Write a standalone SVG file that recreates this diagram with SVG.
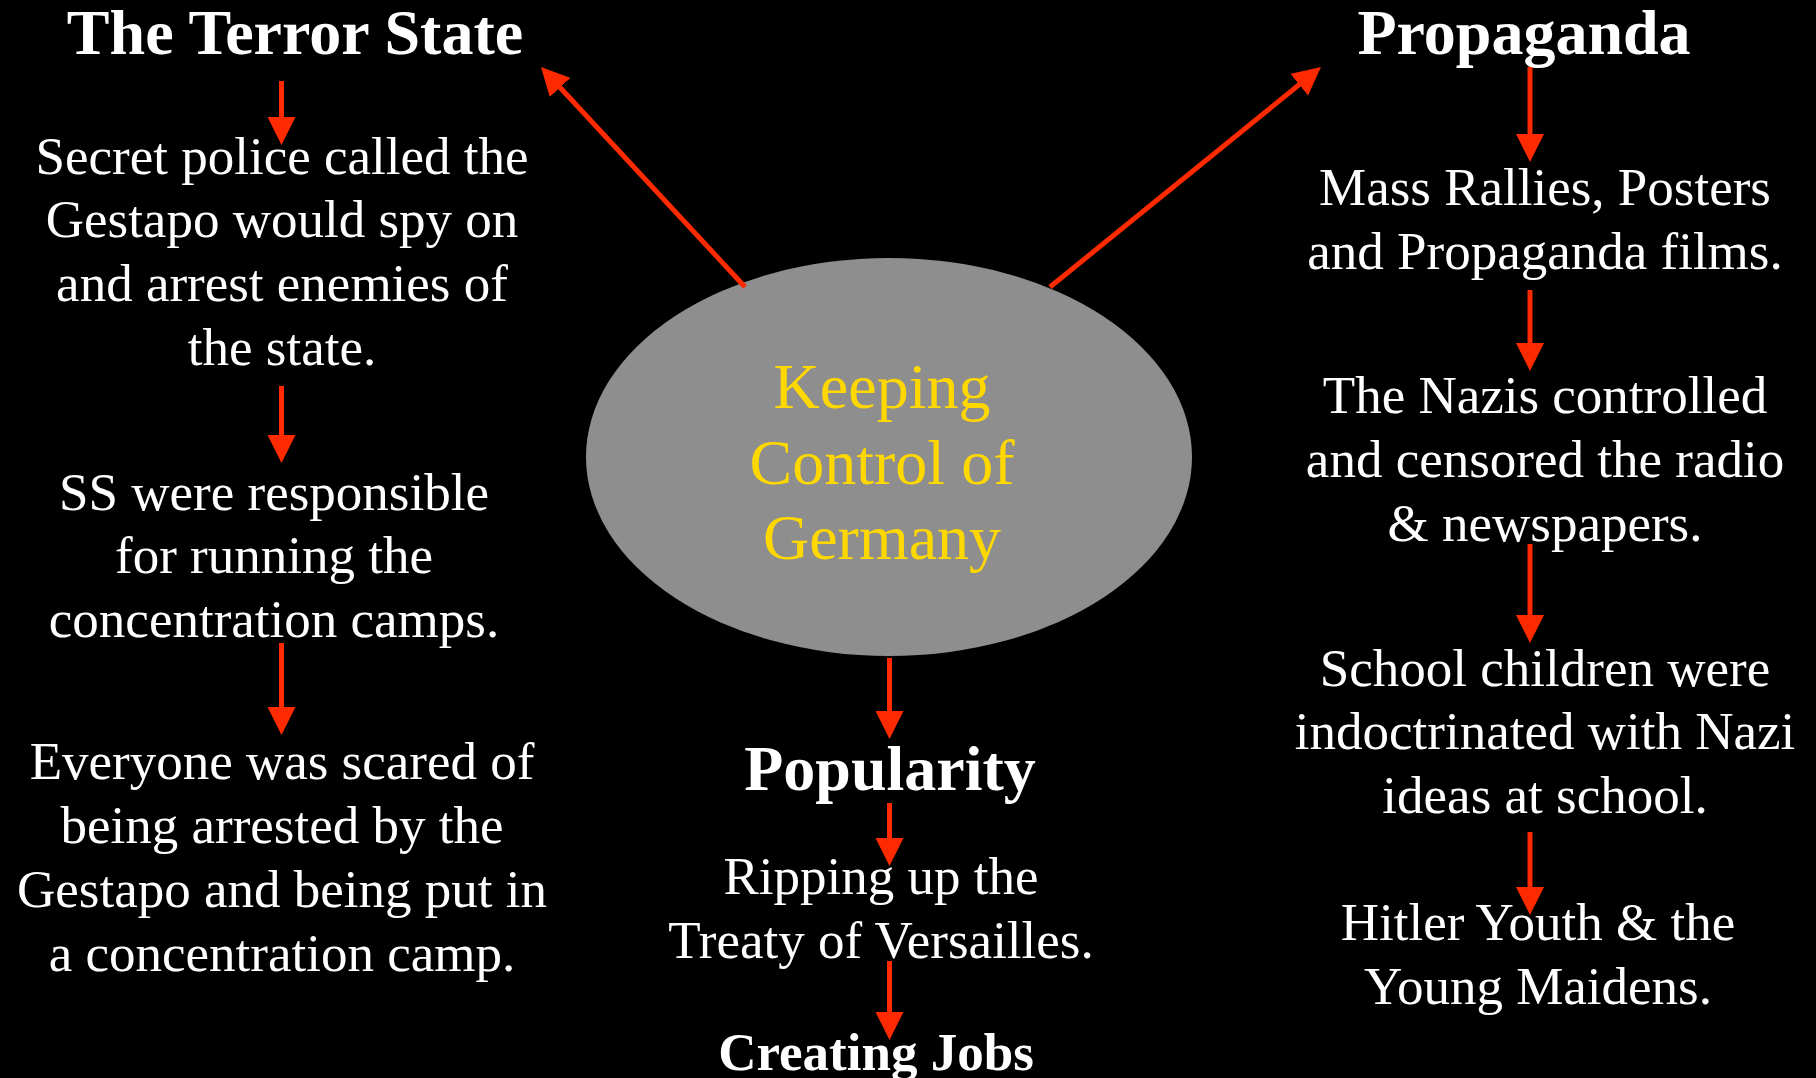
<svg xmlns="http://www.w3.org/2000/svg" width="1816" height="1078" viewBox="0 0 1816 1078">
<style>
.t{font-family:"Liberation Serif","Times New Roman",serif;fill:#fff;text-anchor:middle}
.b{font-size:53px}
.h{font-size:64px;font-weight:bold}
.k{font-family:"Liberation Serif","Times New Roman",serif;fill:#ffd800;text-anchor:middle;font-size:64px}
.c{stroke:#ff2a00;stroke-width:5;fill:none;marker-end:url(#ah)}
</style>
<defs>
<marker id="ah" markerUnits="userSpaceOnUse" markerWidth="30" markerHeight="28" refX="18" refY="14" orient="auto">
<path d="M0,0 L28,14 L0,28 Z" fill="#ff2a00"/>
</marker>
</defs>
<rect width="1816" height="1078" fill="#000"/>
<g id="center">
<ellipse cx="889" cy="457" rx="303" ry="199" fill="#8e8e8e"/>
<text class="k" x="882" y="408">Keeping</text>
<text class="k" x="882" y="484">Control of</text>
<text class="k" x="882" y="559">Germany</text>
</g>
<g id="terror-title"><text class="t h" x="295" y="54">The Terror State</text></g>
<g id="terror-1"><text class="t b"><tspan x="282" y="174">Secret police called the</tspan><tspan x="282" y="237">Gestapo would spy on</tspan><tspan x="282" y="301">and arrest enemies of</tspan><tspan x="282" y="365">the state.</tspan></text></g>
<g id="terror-2"><text class="t b"><tspan x="274" y="510">SS were responsible</tspan><tspan x="274" y="573">for running the</tspan><tspan x="274" y="637">concentration camps.</tspan></text></g>
<g id="terror-3"><text class="t b"><tspan x="282" y="779">Everyone was scared of</tspan><tspan x="282" y="843">being arrested by the</tspan><tspan x="282" y="907">Gestapo and being put in</tspan><tspan x="282" y="971">a concentration camp.</tspan></text></g>
<g id="prop-title"><text class="t h" x="1524" y="54">Propaganda</text></g>
<g id="prop-1"><text class="t b"><tspan x="1545" y="205">Mass Rallies, Posters</tspan><tspan x="1545" y="269">and Propaganda films.</tspan></text></g>
<g id="prop-2"><text class="t b"><tspan x="1545" y="413">The Nazis controlled</tspan><tspan x="1545" y="477">and censored the radio</tspan><tspan x="1545" y="541">&amp; newspapers.</tspan></text></g>
<g id="prop-3"><text class="t b"><tspan x="1545" y="686">School children were</tspan><tspan x="1545" y="749">indoctrinated with Nazi</tspan><tspan x="1545" y="813">ideas at school.</tspan></text></g>
<g id="prop-4"><text class="t b"><tspan x="1538" y="940">Hitler Youth &amp; the</tspan><tspan x="1538" y="1004">Young Maidens.</tspan></text></g>
<g id="pop-title"><text class="t h" x="890" y="790">Popularity</text></g>
<g id="pop-1"><text class="t b"><tspan x="881" y="894">Ripping up the</tspan><tspan x="881" y="958">Treaty of Versailles.</tspan></text></g>
<g id="pop-2"><text class="t" style="font-size:53px;font-weight:bold" x="876" y="1070">Creating Jobs</text></g>
<g id="connectors">
<line class="c" x1="745" y1="287" x2="547.8" y2="74.3"/>
<line class="c" x1="1050" y1="287" x2="1313.2" y2="73.3"/>
<line class="c" x1="281.5" y1="81" x2="281.5" y2="135"/>
<line class="c" x1="281.5" y1="386" x2="281.5" y2="453"/>
<line class="c" x1="281.5" y1="643" x2="281.5" y2="725"/>
<line class="c" x1="1530" y1="67" x2="1530" y2="152"/>
<line class="c" x1="1530" y1="290" x2="1530" y2="361"/>
<line class="c" x1="1530" y1="544" x2="1530" y2="633"/>
<line class="c" x1="1530" y1="832" x2="1530" y2="905"/>
<line class="c" x1="889.5" y1="658" x2="889.5" y2="729"/>
<line class="c" x1="889.5" y1="803" x2="889.5" y2="856"/>
<line class="c" x1="889.5" y1="961" x2="889.5" y2="1030"/>
</g>
</svg>
